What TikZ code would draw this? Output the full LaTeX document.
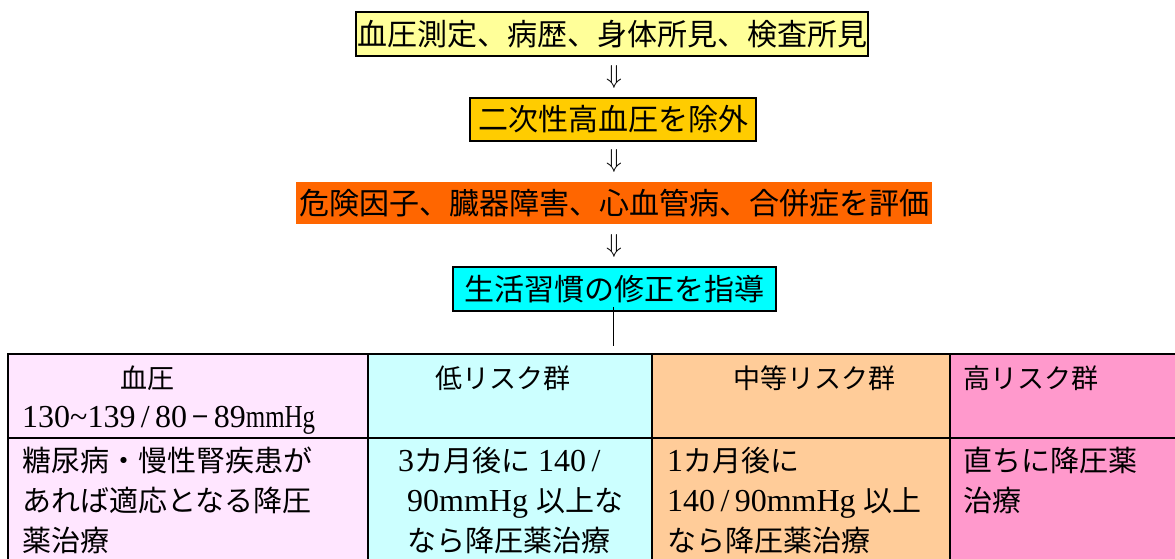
\documentclass[tikz,border=0pt]{standalone}
\usepackage{fontspec}
\usepackage{graphicx}
\setmainfont{Liberation Serif}
\newfontfamily\jp{Noto Sans CJK JP}
\definecolor{cyellow}{HTML}{FFFF99}
\definecolor{cgold}{HTML}{FFCC00}
\definecolor{corange}{HTML}{FF6600}
\definecolor{ccyan}{HTML}{00FFFF}
\definecolor{tpink}{HTML}{FFE6FF}
\definecolor{tcyan}{HTML}{CCFFFF}
\definecolor{tpeach}{HTML}{FFCC99}
\definecolor{trose}{HTML}{FF99CC}
\tikzset{
  flowbox/.style={draw=black, line width=1.6pt, inner sep=0pt, anchor=center,
    font=\jp\fontsize{30}{36}\selectfont},
  plainbox/.style={inner sep=0pt, anchor=center, font=\jp\fontsize{30}{36}\selectfont},
  dnarrow/.style={inner sep=0pt, anchor=center, font=\fontsize{20}{24}\selectfont},
  tline/.style={line width=1.6pt, draw=black},
  cell/.style={inner sep=0pt, anchor=base west, font=\fontsize{32}{36}\selectfont},
  hcell/.style={inner sep=0pt, anchor=base west, font=\fontsize{32}{36}\selectfont}
}
\newcommand{\J}[1]{{\jp\fontsize{29}{34}\selectfont #1}}
\newcommand{\JH}[1]{{\jp\fontsize{27}{32}\selectfont #1}}
\newcommand{\DA}{\scalebox{1.25}{$\Downarrow$}}
\begin{document}
\begin{tikzpicture}[x=1pt,y=-1pt]
\useasboundingbox (0,0) rectangle (1175,559);
% flow boxes
\node[flowbox, fill=cyellow, minimum width=512, minimum height=44] (b1) at (612,34) {血圧測定、病歴、身体所見、検査所見};
\node[dnarrow] (a1) at (614,77) {\DA};
\node[flowbox, fill=cgold, minimum width=286, minimum height=43] (b2) at (613,119.5) {二次性高血圧を除外};
\node[dnarrow] (a2) at (614,161) {\DA};
\node[plainbox, fill=corange, minimum width=636, minimum height=42] (b3) at (614,203) {危険因子、臓器障害、心血管病、合併症を評価};
\node[dnarrow] (a3) at (614,246) {\DA};
\node[flowbox, fill=ccyan, minimum width=323, minimum height=44] (b4) at (614.5,289) {生活習慣の修正を指導};
\coordinate (lend) at (613,346);
\draw[line width=0.9pt] (b4.south -| lend) ++(0,-5) -- (lend);
% table
\fill[tpink]  (8,354) rectangle (368,570);
\fill[tcyan]  (368,354) rectangle (652,570);
\fill[tpeach] (652,354) rectangle (950,570);
\fill[trose]  (950,354) rectangle (1180,570);
\draw[tline] (8,570) -- (8,354) -- (1180,354);
\draw[tline] (8,438) -- (1180,438);
\draw[tline] (368,354) -- (368,570);
\draw[tline] (652,354) -- (652,570);
\draw[tline] (950,354) -- (950,570);
% header row
\node[hcell] (h1a) at (120,388) {\JH{血圧}};
\node[hcell] (h1b) at (22,427) {130\textasciitilde139\,/\,80\,\J{−}\,89\scalebox{0.78}[1]{mmHg}};
\node[hcell] (h2) at (435,388) {\JH{低リスク群}};
\node[hcell] (h3) at (733,388) {\JH{中等リスク群}};
\node[hcell] (h4) at (963,388) {\JH{高リスク群}};
% second row
\node[cell] (r1a) at (22,471) {\J{糖尿病・慢性腎疾患が}};
\node[cell] (r1b) at (22,511) {\J{あれば適応となる降圧}};
\node[cell] (r1c) at (22,551) {\J{薬治療}};
\node[cell] (r2a) at (398,471) {3\J{カ月後に} 140\,/};
\node[cell] (r2b) at (407,511) {90mmHg \J{以上な}};
\node[cell] (r2c) at (407,551) {\J{なら降圧薬治療}};
\node[cell] (r3a) at (667,471) {1\J{カ月後に}};
\node[cell] (r3b) at (667,511) {140\,/\,90mmHg \J{以上}};
\node[cell] (r3c) at (667,551) {\J{なら降圧薬治療}};
\node[cell] (r4a) at (963,471) {\J{直ちに降圧薬}};
\node[cell] (r4b) at (963,511) {\J{治療}};
\end{tikzpicture}
\end{document}
